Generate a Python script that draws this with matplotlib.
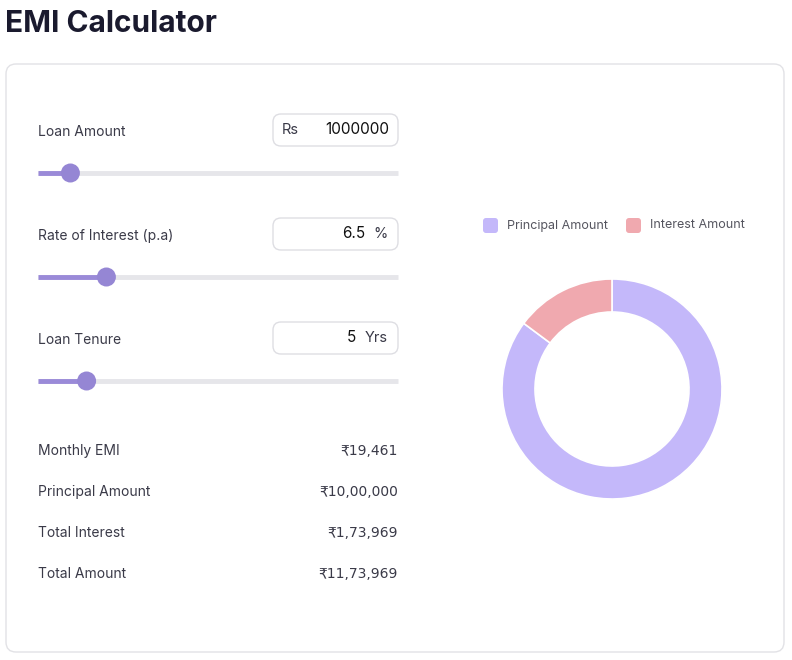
import matplotlib
matplotlib.use("Agg")
import matplotlib.pyplot as plt
from matplotlib.patches import FancyBboxPatch, Circle

labels = ["Principal Amount", "Interest Amount"]
values = [1000000, 173969]
colors = ["#c4b8fa", "#f0a9af"]
input_labels = ["Loan Amount", "Rate of Interest (p.a)", "Loan Tenure"]
input_values = ["1000000", "6.5", "5"]
input_prefix = ["Rs", "", ""]
input_suffix = ["", "%", "Yrs"]
slider_pos = [0.09, 0.19, 0.135]
summary_labels = ["Monthly EMI", "Principal Amount", "Total Interest", "Total Amount"]
summary_values = ["₹19,461", "₹10,00,000", "₹1,73,969", "₹11,73,969"]

W, H = 792, 660
fig = plt.figure(figsize=(W/100, H/100), dpi=100)
fig.patch.set_facecolor("white")
ax = fig.add_axes([0, 0, 1, 1])
ax.set_xlim(0, W); ax.set_ylim(H, 0); ax.axis("off")

FONT = "Inter"
dark = "#1a1a2e"; txt = "#3a3a48"
ax.text(5, 24, "EMI Calculator", fontsize=21.5, fontweight="bold", color=dark, va="center", family=FONT)
ax.add_patch(FancyBboxPatch((6, 64), 778, 588, boxstyle="round,pad=0,rounding_size=10",
                            fc="white", ec="#e2e2e6", lw=1))

for i in range(3):
    yl = 132 + 104*i
    ax.text(38, yl, input_labels[i], fontsize=10, color=txt, va="center", family=FONT)
    ax.add_patch(FancyBboxPatch((273, yl-18), 125, 32, boxstyle="round,pad=0,rounding_size=8",
                                fc="white", ec="#dedee3", lw=1))
    if input_prefix[i]:
        ax.text(282, yl-2, input_prefix[i], fontsize=10.5, color=txt, va="center", family=FONT)
    if input_suffix[i]:
        ax.text(388, yl-2, input_suffix[i], fontsize=10.5, color=txt, va="center", ha="right", family=FONT)
        ax.text(365 if input_suffix[i] == "%" else 356, yl-2, input_values[i], fontsize=11,
                color="#111", va="center", ha="right", family=FONT)
    else:
        ax.text(389, yl-2, input_values[i], fontsize=11, color="#111", va="center", ha="right", family=FONT)
    ys = yl + 41
    ax.plot([38, 398], [ys, ys], color="#e6e6ea", lw=3.5, solid_capstyle="butt", zorder=2)
    xt = 38 + slider_pos[i]*360
    ax.plot([38, xt], [ys, ys], color="#9a8ad8", lw=3.5, solid_capstyle="butt", zorder=3)
    ax.add_patch(Circle((xt, ys), 9.5, fc="#9586d4", ec="none", zorder=4))

for i in range(4):
    y = 451 + 41*i
    ax.text(38, y, summary_labels[i], fontsize=10, color=txt, va="center", family=FONT)
    ax.text(398, y, summary_values[i], fontsize=10, color=txt, va="center", ha="right", family="DejaVu Sans")

lx = [483, 626]
for i in range(2):
    ax.add_patch(FancyBboxPatch((lx[i], 218), 15, 15, boxstyle="round,pad=0,rounding_size=3",
                                fc=colors[i], ec="none"))
    ax.text(lx[i]+24, 225.5, labels[i], fontsize=9, color="#55555f", va="center", family=FONT)

cx, cy, r = 612, 389, 110
pax = fig.add_axes([(cx-r)/W, 1-(cy+r)/H, 2*r/W, 2*r/H])
pax.pie(values, colors=colors, startangle=90, counterclock=False, radius=1,
        wedgeprops=dict(width=0.3, edgecolor="white", linewidth=1.2))
pax.set_xlim(-1, 1); pax.set_ylim(-1, 1)
pax.set_aspect("equal")
fig.savefig("out.png", dpi=100)
